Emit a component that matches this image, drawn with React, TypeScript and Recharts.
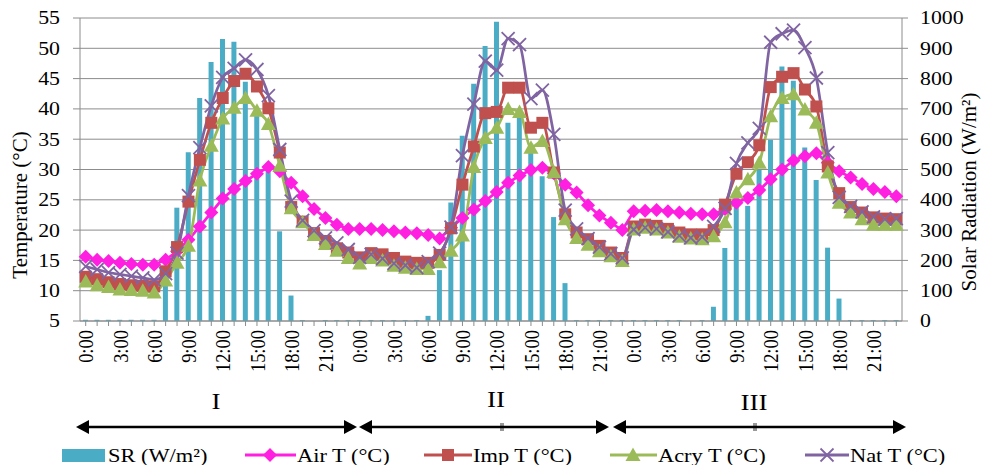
import React from "react";
import { ComposedChart, Bar, Line, XAxis, YAxis, CartesianGrid } from "recharts";

// hourly readings, three days in a row (I, II, III)
const HOURS = [
  "0:00", "1:00", "2:00", "3:00", "4:00", "5:00", "6:00", "7:00",
  "8:00", "9:00", "10:00", "11:00", "12:00", "13:00", "14:00", "15:00",
  "16:00", "17:00", "18:00", "19:00", "20:00", "21:00", "22:00", "23:00",
];
const DAYS = ["I", "II", "III"];

const SR = [
  4, 4, 4, 4, 4, 4, 4, 150, 374, 557, 736, 855, 931, 922, 790, 695, 515, 296, 84, 3, 0, 3, 3, 3,
  3, 3, 3, 3, 3, 3, 17, 168, 391, 611, 783, 908, 988, 654, 670, 585, 478, 343, 125, 3, 3, 3, 3, 3,
  3, 3, 3, 3, 3, 0, 3, 47, 241, 400, 380, 499, 598, 840, 793, 573, 465, 242, 74, 3, 3, 3, 3, 3,
];
const AIR_T = [
  15.6, 15.1, 14.9, 14.6, 14.4, 14.3, 14.3, 15.1, 16.5, 18.4, 20.6, 22.9, 25.2, 26.8, 28.1, 29.3, 30.4, 29.7, 27.8, 25.6, 23.5, 22.0, 20.9, 20.2,
  20.2, 20.2, 20.0, 19.8, 19.6, 19.5, 19.2, 18.6, 20.4, 22.0, 23.4, 24.8, 26.3, 27.8, 29.0, 29.9, 30.3, 29.4, 27.5, 26.2, 24.1, 22.4, 21.2, 20.0,
  23.1, 23.2, 23.3, 23.1, 22.9, 22.7, 22.6, 22.6, 23.5, 24.5, 25.3, 26.6, 28.4, 30.0, 31.5, 32.2, 32.7, 31.1, 29.7, 28.7, 27.6, 26.8, 26.3, 25.6,
];
const IMP_T = [
  12.3, 11.9, 11.4, 11.1, 10.9, 10.8, 10.7, 13.2, 17.2, 24.7, 31.6, 37.7, 41.8, 44.6, 45.8, 43.7, 40.1, 32.8, 23.8, 21.4, 19.5, 18.2, 17.0, 16.3,
  15.5, 16.2, 16.0, 15.4, 14.8, 14.6, 14.6, 15.9, 20.3, 27.5, 33.8, 39.3, 39.5, 43.5, 43.5, 36.9, 37.7, 29.5, 22.6, 19.6, 18.5, 17.4, 16.3, 15.4,
  20.6, 20.9, 20.7, 20.2, 19.6, 19.3, 19.3, 20.0, 24.2, 29.3, 31.2, 34.0, 43.6, 45.3, 45.9, 43.2, 40.4, 30.5, 26.1, 23.8, 22.9, 22.1, 21.9, 21.8,
];
const ACRY_T = [
  11.5, 10.9, 10.6, 10.2, 10.1, 10.0, 9.7, 11.7, 14.6, 17.4, 28.2, 33.9, 38.4, 40.2, 41.8, 39.7, 37.5, 30.6, 23.6, 21.3, 19.2, 17.7, 16.6, 15.4,
  14.5, 15.4, 15.0, 14.1, 13.8, 13.6, 13.6, 14.7, 16.6, 19.1, 30.4, 35.2, 36.9, 40.0, 39.5, 33.6, 34.7, 29.6, 21.8, 18.7, 17.6, 16.5, 15.7, 14.9,
  20.1, 20.4, 20.1, 19.6, 18.9, 18.6, 18.5, 19.0, 21.3, 26.2, 28.4, 31.1, 38.8, 41.8, 42.4, 39.9, 37.7, 29.5, 24.5, 22.9, 21.8, 20.9, 20.9, 20.9,
];
const NAT_T = [
  14.0, 13.5, 13.0, 12.7, 12.4, 12.1, 11.8, 12.8, 16.2, 25.7, 33.6, 40.5, 45.2, 46.7, 48.1, 46.5, 42.2, 33.3, 24.8, 21.6, 19.9, 18.7, 17.9, 16.8,
  15.5, 16.0, 15.3, 14.5, 14.2, 13.8, 14.8, 16.2, 20.5, 32.3, 40.8, 47.9, 46.4, 51.6, 50.6, 41.7, 43.1, 35.8, 23.3, 20.2, 18.6, 17.2, 16.1, 15.4,
  20.1, 20.4, 20.2, 19.7, 19.1, 18.7, 18.9, 20.6, 23.6, 31.0, 34.4, 36.8, 51.0, 52.4, 53.0, 50.1, 45.1, 32.8, 25.4, 23.9, 23.0, 22.2, 21.8, 21.9,
];

const TEMP_TICKS = [5, 10, 15, 20, 25, 30, 35, 40, 45, 50, 55];
const SR_TICKS = [0, 100, 200, 300, 400, 500, 600, 700, 800, 900, 1000];

const data = SR.map((sr, i) => ({
  hour: HOURS[i % 24],
  sr,
  air: AIR_T[i],
  imp: IMP_T[i],
  acry: ACRY_T[i],
  nat: NAT_T[i],
}));

const FONT = "Liberation Serif";
const SX = 1.18; // the original picture is a bit wide
const GRID = "#8c8c8c";
const SR_C = "#4bacc6";
const AIR_C = "#ff1fe0";
const IMP_C = "#c0504d";
const ACRY_C = "#9bbb59";
const NAT_C = "#8064a2";

const Diamond = ({ cx, cy, r = 7 }: any) => (
  <polygon points={`${cx},${cy - r} ${cx + r},${cy} ${cx},${cy + r} ${cx - r},${cy}`} fill={AIR_C} />
);
const Square = ({ cx, cy, s = 12 }: any) => (
  <rect x={cx - s / 2} y={cy - s / 2} width={s} height={s} fill={IMP_C} />
);
const Triangle = ({ cx, cy }: any) => (
  <polygon points={`${cx},${cy - 7.5} ${cx + 7.5},${cy + 6} ${cx - 7.5},${cy + 6}`} fill={ACRY_C} />
);
const Cross = ({ cx, cy, r = 6.5 }: any) => (
  <g stroke={NAT_C} strokeWidth={1.8}>
    <line x1={cx - r} y1={cy - r} x2={cx + r} y2={cy + r} />
    <line x1={cx - r} y1={cy + r} x2={cx + r} y2={cy - r} />
  </g>
);

const LeftTick = ({ x, y, payload }: any) => (
  <text transform={`translate(${x},${y}) scale(${SX},1)`} textAnchor="end" dy="0.35em"
    fontSize={18.5} fontFamily={FONT} fill="#000">{payload.value}</text>
);
const RightTick = ({ x, y, payload }: any) => (
  <text transform={`translate(${x},${y}) scale(${SX},1)`} textAnchor="start" dy="0.35em"
    fontSize={18.5} fontFamily={FONT} fill="#000">{payload.value}</text>
);
const HourTick = ({ x, y, payload, index }: any) => {
  if (index % 3 !== 0) return <g />;
  return (
    <text transform={`translate(${x},${y}) scale(${SX},1) rotate(-90)`} textAnchor="end" dy="0.35em"
      fontSize={18.5} fontFamily={FONT} fill="#000">{payload.value}</text>
  );
};

const txt = (x: number, y: number, s: string, size = 19, anchor = "start") => (
  <text transform={`translate(${x},${y}) scale(${SX},1)`} textAnchor={anchor} dy="0.35em"
    fontSize={size} fontFamily={FONT} fill="#000">{s}</text>
);

const Arrow = ({ x1, x2, y }: any) => (
  <g>
    <line x1={x1 + 10} y1={y} x2={x2 - 10} y2={y} stroke="#000" strokeWidth={2.5} />
    <polygon points={`${x1},${y} ${x1 + 13},${y - 7} ${x1 + 13},${y + 7}`} fill="#000" />
    <polygon points={`${x2},${y} ${x2 - 13},${y - 7} ${x2 - 13},${y + 7}`} fill="#000" />
  </g>
);
const Break = ({ x, y }: any) => (
  <g stroke="#000" strokeWidth={0.8}>
    <line x1={x - 1} y1={y - 4} x2={x - 1} y2={y + 4} />
    <line x1={x + 1} y1={y - 4} x2={x + 1} y2={y + 4} />
  </g>
);

function Overlay() {
  return (
    <svg width={982} height={465} style={{ position: "absolute", left: 0, top: 0, pointerEvents: "none" }}>
      <text transform="translate(27,205) rotate(-90)" textAnchor="middle" fontSize={21} fontFamily={FONT}>
        Temperature (°C)
      </text>
      <text transform="translate(976,192) rotate(-90)" textAnchor="middle" fontSize={21} fontFamily={FONT}>
        Solar Radiation (W/m²)
      </text>
      {txt(216, 401, DAYS[0], 23, "middle")}
      {txt(496, 399, DAYS[1], 23, "middle")}
      {txt(754, 402, DAYS[2], 23, "middle")}
      <Arrow x1={76} x2={357} y={427} />
      <Arrow x1={359} x2={609} y={427} />
      <Arrow x1={613} x2={906} y={427} />
      <Break x={502} y={427} />
      <Break x={755} y={427} />
      <rect x={62} y={449} width={43} height={13} fill={SR_C} />
      {txt(108, 455, "SR (W/m²)")}
      <line x1={245} y1={455} x2={296} y2={455} stroke={AIR_C} strokeWidth={3} />
      <Diamond cx={270} cy={455} />
      {txt(297, 455, "Air T (°C)")}
      <line x1={424} y1={455} x2={472} y2={455} stroke={IMP_C} strokeWidth={3} />
      <Square cx={448} cy={455} />
      {txt(473, 455, "Imp T (°C)")}
      <line x1={610} y1={455} x2={657} y2={455} stroke={ACRY_C} strokeWidth={3} />
      <Triangle cx={633} cy={455} />
      {txt(658, 455, "Acry T (°C)")}
      <line x1={805} y1={455} x2={849} y2={455} stroke={NAT_C} strokeWidth={3} />
      <Cross cx={827} cy={455} />
      {txt(850, 455, "Nat T (°C)")}
    </svg>
  );
}

export default function App() {
  return (
    <div style={{ position: "absolute", left: 0, top: 0, width: 982, height: 465, background: "#fff" }}>
      <ComposedChart width={982} height={465} data={data} margin={{ top: 18, right: 0, bottom: 0, left: 0 }}>
        <CartesianGrid yAxisId="t" vertical={false} stroke={GRID} />
        <XAxis
          dataKey="hour"
          allowDuplicatedCategory
          interval={0}
          height={144}
          tick={<HourTick />}
          tickSize={5}
          tickMargin={4}
          stroke={GRID}
        />
        <YAxis
          yAxisId="t"
          width={80}
          domain={[5, 55]}
          ticks={TEMP_TICKS}
          tick={<LeftTick />}
          tickSize={7}
          tickMargin={13}
          stroke={GRID}
        />
        <YAxis
          yAxisId="sr"
          orientation="right"
          width={80}
          domain={[0, 1000]}
          ticks={SR_TICKS}
          tick={<RightTick />}
          tickSize={6}
          tickMargin={12}
          stroke={GRID}
        />
        <Bar yAxisId="sr" dataKey="sr" fill={SR_C} barSize={5} isAnimationActive={false} />
        <Line yAxisId="t" dataKey="air" stroke={AIR_C} strokeWidth={2.75} type="linear"
          dot={(p: any) => <Diamond key={p.index} cx={p.cx} cy={p.cy} />} activeDot={false} isAnimationActive={false} />
        <Line yAxisId="t" dataKey="imp" stroke={IMP_C} strokeWidth={2.75} type="monotone"
          dot={(p: any) => <Square key={p.index} cx={p.cx} cy={p.cy} />} activeDot={false} isAnimationActive={false} />
        <Line yAxisId="t" dataKey="acry" stroke={ACRY_C} strokeWidth={2.75} type="monotone"
          dot={(p: any) => <Triangle key={p.index} cx={p.cx} cy={p.cy} />} activeDot={false} isAnimationActive={false} />
        <Line yAxisId="t" dataKey="nat" stroke={NAT_C} strokeWidth={2.75} type="monotone"
          dot={(p: any) => <Cross key={p.index} cx={p.cx} cy={p.cy} />} activeDot={false} isAnimationActive={false} />
      </ComposedChart>
      <Overlay />
    </div>
  );
}
